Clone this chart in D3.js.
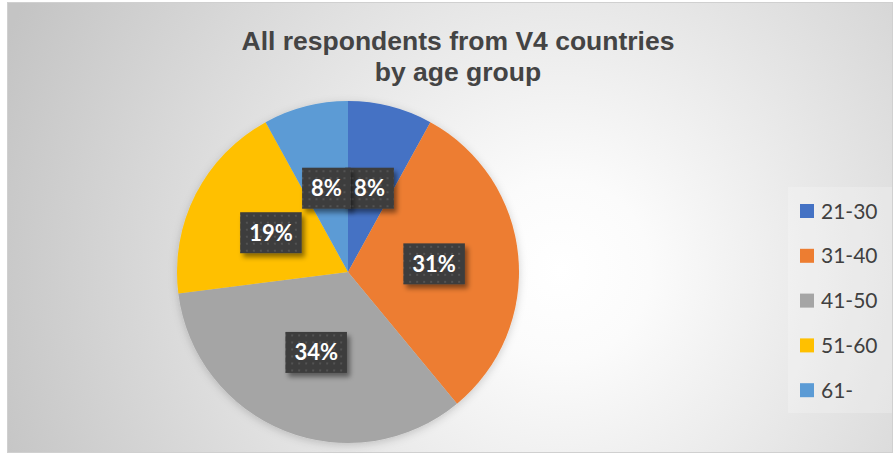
<!DOCTYPE html>
<html>
<head>
<meta charset="utf-8">
<script src="https://cdn.jsdelivr.net/npm/d3@7"></script>
<style>
  html, body { margin: 0; padding: 0; background: #ffffff; }
  svg { display: block; }
</style>
</head>
<body>
<svg id="chart" width="896" height="454"></svg>
<script>
// Age groups and their share of respondents (percent)
const categories = ["21-30", "31-40", "41-50", "51-60", "61-"];
const shares = [8, 31, 34, 19, 8];
const colors = ["#4472C4", "#ED7D31", "#A5A5A5", "#FFC000", "#5B9BD5"];
const titleLines = ["All respondents from V4 countries", "by age group"];

const svg = d3.select("#chart");
const W = 896, H = 454;
const defs = svg.append("defs");

// Soft radial background of the chart area
const bg = defs.append("radialGradient")
  .attr("id", "bgGrad")
  .attr("gradientUnits", "userSpaceOnUse")
  .attr("cx", 560).attr("cy", 270).attr("r", 600);
bg.append("stop").attr("offset", "0%").attr("stop-color", "#ffffff");
bg.append("stop").attr("offset", "15%").attr("stop-color", "#fbfbfb");
bg.append("stop").attr("offset", "100%").attr("stop-color", "#c4c4c4");

// Dotted dark fill for the data label boxes
const pat = defs.append("pattern")
  .attr("id", "dots")
  .attr("patternUnits", "userSpaceOnUse")
  .attr("width", 7).attr("height", 7);
pat.append("rect").attr("width", 7).attr("height", 7).attr("fill", "#3d3d3d");
pat.append("rect").attr("x", 3).attr("y", 3).attr("width", 2).attr("height", 2).attr("fill", "#525252");

const labelShadow = defs.append("filter").attr("id", "labelShadow")
  .attr("x", "-30%").attr("y", "-30%").attr("width", "160%").attr("height", "160%");
labelShadow.append("feDropShadow")
  .attr("dx", 3).attr("dy", 4).attr("stdDeviation", 2.5)
  .attr("flood-color", "#000").attr("flood-opacity", 0.45);

const pieShadow = defs.append("filter").attr("id", "pieShadow")
  .attr("x", "-20%").attr("y", "-20%").attr("width", "140%").attr("height", "140%");
pieShadow.append("feDropShadow")
  .attr("dx", 0).attr("dy", 2).attr("stdDeviation", 4)
  .attr("flood-color", "#000").attr("flood-opacity", 0.18);

// Chart area
svg.append("rect")
  .attr("x", 7.5).attr("y", 2.5)
  .attr("width", 885).attr("height", 450)
  .attr("fill", "url(#bgGrad)")
  .attr("stroke", "#d0d0d0").attr("stroke-width", 1);

// Title
const title = svg.append("text")
  .attr("text-anchor", "middle")
  .attr("font-family", "'Liberation Sans', Arial, sans-serif")
  .attr("font-weight", "bold")
  .attr("font-size", 26.5)
  .attr("fill", "#444444");
title.selectAll("tspan").data(titleLines).join("tspan")
  .attr("x", 458)
  .attr("y", (d, i) => 50 + i * 31)
  .text(d => d);

// Pie
const cx = 348, cy = 272, R = 171;
const pie = d3.pie().sort(null).value(d => d.value);
const data = categories.map((c, i) => ({ name: c, value: shares[i], color: colors[i] }));
const arcs = pie(data);
const arc = d3.arc().innerRadius(0).outerRadius(R);
const labelArc = d3.arc().innerRadius(R / 2 + 1).outerRadius(R / 2 + 1);

const g = svg.append("g").attr("transform", `translate(${cx},${cy})`);
g.append("g").attr("filter", "url(#pieShadow)")
  .selectAll("path").data(arcs).join("path")
  .attr("d", arc)
  .attr("fill", d => d.data.color);

// Data labels
const labels = g.append("g").selectAll("g").data(arcs).join("g")
  .attr("transform", d => `translate(${labelArc.centroid(d)})`);
labels.each(function (d) {
  const sel = d3.select(this);
  const t = sel.append("text")
    .attr("text-anchor", "middle")
    .attr("font-family", "Lato, 'Open Sans', sans-serif")
    .attr("font-weight", "bold")
    .attr("font-size", 22)
    .attr("fill", "#ffffff")
    .attr("y", 8)
    .text(d.data.value + "%");
  const tw = t.node().getComputedTextLength();
  const bw = tw + 18, bh = 41;
  sel.insert("rect", "text")
    .attr("x", -bw / 2).attr("y", -bh / 2)
    .attr("width", bw).attr("height", bh)
    .attr("fill", "url(#dots)")
    .attr("filter", "url(#labelShadow)");
});

// Legend
const legend = svg.append("g");
legend.append("rect")
  .attr("x", 788).attr("y", 187)
  .attr("width", 104).attr("height", 226)
  .attr("fill", "#ffffff").attr("fill-opacity", 0.22);
const items = legend.selectAll("g.item").data(data).join("g")
  .attr("class", "item")
  .attr("transform", (d, i) => `translate(800, ${211 + i * 44.8})`);
items.append("rect")
  .attr("x", 0).attr("y", -7)
  .attr("width", 14).attr("height", 14)
  .attr("fill", d => d.color);
items.append("text")
  .attr("x", 21).attr("y", 7.5)
  .attr("font-family", "Lato, 'Open Sans', sans-serif")
  .attr("font-size", 21)
  .attr("fill", "#404040")
  .text(d => d.name);
</script>
</body>
</html>
